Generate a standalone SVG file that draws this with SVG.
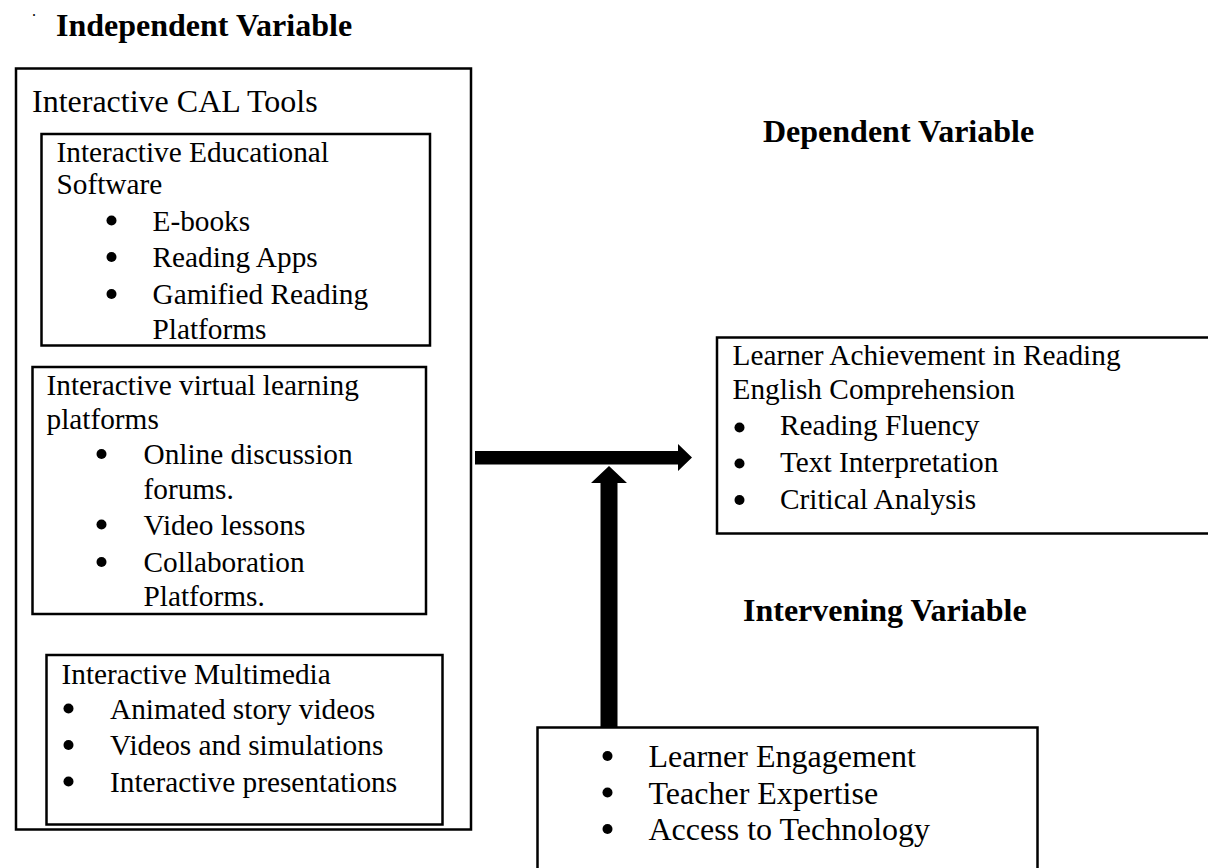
<svg xmlns="http://www.w3.org/2000/svg" width="1208" height="868" viewBox="0 0 1208 868">
  <style>
    .box { fill: none; stroke: #000; stroke-width: 2.5; }
    .t { font-family: "Liberation Serif", "Times New Roman", serif; font-size: 29.3px; fill: #000; }
    .big { font-family: "Liberation Serif", "Times New Roman", serif; font-size: 32px; fill: #000; }
    .title { font-family: "Liberation Serif", "Times New Roman", serif; font-size: 32px; font-weight: bold; fill: #000; }
    .dot { fill: #000; }
    .arrow { fill: #000; stroke: none; }
  </style>
  <rect width="1208" height="868" fill="#fff"/>

  <!-- headings -->
  <g id="headings">
    <text class="t" x="32" y="16" style="font-size:16px">.</text>
    <text class="title" x="56" y="36">Independent Variable</text>
    <text class="title" x="763" y="142">Dependent Variable</text>
    <text class="title" x="743" y="621">Intervening Variable</text>
  </g>

  <!-- independent variable: CAL tools container -->
  <g id="cal-tools">
    <rect class="box" x="16" y="68.5" width="455" height="761"/>
    <text class="big" x="32" y="112">Interactive CAL Tools</text>
  </g>

  <g id="educational-software">
    <rect class="box" x="41.5" y="134" width="388.5" height="211.5"/>
    <text class="t" x="56.5" y="162">Interactive Educational</text>
    <text class="t" x="56.5" y="194">Software</text>
    <circle class="dot" cx="111.5" cy="220.5" r="5"/>
    <text class="t" x="152.5" y="231">E-books</text>
    <circle class="dot" cx="111.5" cy="257" r="5"/>
    <text class="t" x="152.5" y="267">Reading Apps</text>
    <circle class="dot" cx="111.5" cy="294" r="5"/>
    <text class="t" x="152.5" y="304">Gamified Reading</text>
    <text class="t" x="152.5" y="338.5">Platforms</text>
  </g>

  <g id="virtual-platforms">
    <rect class="box" x="32.5" y="367" width="393.5" height="247"/>
    <text class="t" x="46.5" y="395">Interactive virtual learning</text>
    <text class="t" x="46.5" y="428.5">platforms</text>
    <circle class="dot" cx="101.5" cy="454" r="5"/>
    <text class="t" x="143.5" y="464">Online discussion</text>
    <text class="t" x="143.5" y="498.5">forums.</text>
    <circle class="dot" cx="101.5" cy="524.5" r="5"/>
    <text class="t" x="143.5" y="534.5">Video lessons</text>
    <circle class="dot" cx="101.5" cy="562" r="5"/>
    <text class="t" x="143.5" y="572">Collaboration</text>
    <text class="t" x="143.5" y="606">Platforms.</text>
  </g>

  <g id="multimedia">
    <rect class="box" x="46.5" y="655" width="396" height="169.5"/>
    <text class="t" x="61.5" y="683.5">Interactive Multimedia</text>
    <circle class="dot" cx="68.5" cy="708.5" r="5"/>
    <text class="t" x="110" y="718.5">Animated story videos</text>
    <circle class="dot" cx="68.5" cy="745" r="5"/>
    <text class="t" x="110" y="755">Videos and simulations</text>
    <circle class="dot" cx="68.5" cy="781.5" r="5"/>
    <text class="t" x="110" y="791.5">Interactive presentations</text>
  </g>

  <!-- dependent variable -->
  <g id="achievement">
    <rect class="box" x="717" y="337.5" width="520" height="196"/>
    <text class="t" x="732.5" y="365">Learner Achievement in Reading</text>
    <text class="t" x="732.5" y="398.5">English Comprehension</text>
    <circle class="dot" cx="739.5" cy="427.5" r="5"/>
    <text class="t" x="780" y="435">Reading Fluency</text>
    <circle class="dot" cx="739.5" cy="463.5" r="5"/>
    <text class="t" x="780" y="471.5">Text Interpretation</text>
    <circle class="dot" cx="739.5" cy="500" r="5"/>
    <text class="t" x="780" y="508.5">Critical Analysis</text>
  </g>

  <!-- intervening variable -->
  <g id="intervening">
    <rect class="box" x="537.5" y="727.5" width="500" height="160"/>
    <circle class="dot" cx="607.5" cy="756" r="5"/>
    <text class="big" x="648.5" y="767">Learner Engagement</text>
    <circle class="dot" cx="607.5" cy="792.5" r="5"/>
    <text class="big" x="648.5" y="803.5">Teacher Expertise</text>
    <circle class="dot" cx="607.5" cy="829" r="5"/>
    <text class="big" x="648.5" y="840">Access to Technology</text>
  </g>

  <!-- connectors -->
  <g id="connectors">
    <polygon class="arrow" points="475,451 678,451 678,444 692,457.5 678,471 678,464.5 475,464.5"/>
    <polygon class="arrow" points="600.5,728 600.5,483 591,483 609,466 627,483 617.5,483 617.5,728"/>
  </g>
</svg>
